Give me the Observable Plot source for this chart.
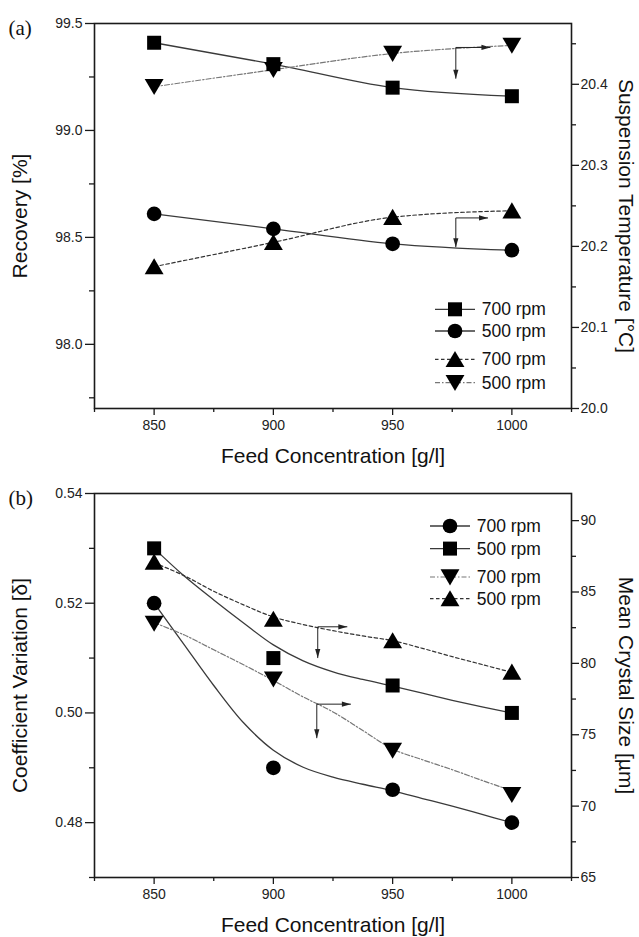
<!DOCTYPE html>
<html>
<head>
<meta charset="utf-8">
<script src="https://cdn.jsdelivr.net/npm/d3@7"></script>
<script src="https://cdn.jsdelivr.net/npm/@observablehq/plot@0.6"></script>
<style>
  html, body { margin: 0; padding: 0; background: #fff; }
  #chart svg { display: block; }
</style>
</head>
<body>
<div id="chart"></div>
<script>
// ---------- data ----------
const conc = [850, 900, 950, 1000];

// panel (a)
const recovery700 = [99.41, 99.31, 99.20, 99.16];   // left axis, squares
const recovery500 = [98.61, 98.54, 98.47, 98.44];   // left axis, circles
const temp700 = [20.175, 20.205, 20.236, 20.244];   // right axis, up triangles
const temp500 = [20.397, 20.418, 20.438, 20.448];   // right axis, down triangles

// panel (b)
const cv700 = [0.520, 0.490, 0.486, 0.480];         // left axis, circles
const cv500 = [0.530, 0.510, 0.505, 0.500];         // left axis, squares
const size700 = [82.8, 78.9, 73.9, 70.8];           // right axis, down triangles
const size500 = [87.1, 83.1, 81.6, 79.4];           // right axis, up triangles

// fitted curves of panel (b)
const fitConc = [850, 862.5, 875, 887.5, 900, 912.5, 925, 937.5, 950, 962.5, 975, 987.5, 1000];
const cvFit700 = [0.5200, 0.5125, 0.5050, 0.4982, 0.4932, 0.4901, 0.4883, 0.4870, 0.4858, 0.4844, 0.4830, 0.4815, 0.4800];
const cvFit500 = [0.5300, 0.5250, 0.5206, 0.5164, 0.5124, 0.5095, 0.5075, 0.5061, 0.5049, 0.5036, 0.5023, 0.5011, 0.5000];
const sizeFit700 = [82.85, 82.0, 80.95, 79.9, 78.8, 77.65, 76.6, 75.3, 74.0, 73.25, 72.55, 71.8, 71.08];
const sizeFit500 = [87.05, 86.15, 85.05, 84.1, 83.25, 82.72, 82.29, 81.92, 81.59, 81.05, 80.47, 79.92, 79.37];

// axes / ticks
const xTicks = [850, 900, 950, 1000];
const xMinor = [825, 875, 925, 975, 1025];
const xDomain = [825, 1025];
const recDomain = [97.7, 99.5];
const recTicks = [98.0, 98.5, 99.0, 99.5];
const recMinor = [97.75, 98.25, 98.75, 99.25];
const tempDomain = [20.0, 20.475];
const tempTicks = [20.0, 20.1, 20.2, 20.3, 20.4];
const tempMinor = [20.05, 20.15, 20.25, 20.35, 20.45];
const cvDomain = [0.47, 0.54];
const cvTicks = [0.48, 0.50, 0.52, 0.54];
const cvMinor = [0.47, 0.49, 0.51, 0.53];
const sizeDomain = [65, 91.9];
const sizeTicks = [65, 70, 75, 80, 85, 90];
const sizeMinor = [67.5, 72.5, 77.5, 82.5, 87.5];

// texts
const xTitle = "Feed Concentration [g/l]";
const titleA = "Recovery [%]";
const titleA2 = "Suspension Temperature [°C]";
const titleB = "Coefficient Variation [δ]";
const titleB2 = "Mean Crystal Size [µm]";
const legendLabelsA = ["700 rpm", "500 rpm", "700 rpm", "500 rpm"];
const legendLabelsB = ["700 rpm", "500 rpm", "700 rpm", "500 rpm"];

// arrow annotations (in left-axis units)
const arrowsA = [
  {x: 976.5, y: 99.388, xEnd: 991, yEnd: 99.242},
  {x: 976.5, y: 98.591, xEnd: 990, yEnd: 98.454}
];
const arrowsB = [
  {x: 918.6, y: 0.5157, xEnd: 931, yEnd: 0.5100},
  {x: 918.2, y: 0.5016, xEnd: 932.5, yEnd: 0.4954}
];

// ---------- helpers ----------
const mapper = (from, to) => {
  const f = d3.scaleLinear().domain(from).range(to);
  return [v => f(v), v => f.invert(v)];
};
const [toA, fromA] = mapper(tempDomain, recDomain);
const [toB, fromB] = mapper(sizeDomain, cvDomain);

const R = s => Math.sqrt(s / Math.PI);
const symSquare = {draw(c, s) { const r = R(s); c.rect(-r, -r, 2 * r, 2 * r); }};
const symCircle = {draw(c, s) { const r = R(s) * 1.05; c.moveTo(r, 0); c.arc(0, 0, r, 0, 2 * Math.PI); }};
const symUp = {draw(c, s) { const r = R(s); c.moveTo(0, -1.2 * r); c.lineTo(1.35 * r, 1.1 * r); c.lineTo(-1.35 * r, 1.1 * r); c.closePath(); }};
const symDown = {draw(c, s) { const r = R(s); c.moveTo(0, 1.2 * r); c.lineTo(1.35 * r, -1.1 * r); c.lineTo(-1.35 * r, -1.1 * r); c.closePath(); }};
const headRight = {draw(c) { c.moveTo(0, 0); c.lineTo(-9, -2.6); c.lineTo(-9, 2.6); c.closePath(); }};
const headDown = {draw(c) { c.moveTo(0, 0); c.lineTo(-2.6, -9); c.lineTo(2.6, -9); c.closePath(); }};

const SOLID = {stroke: "#3a3a3a", strokeWidth: 1.3};
const DASH = {stroke: "#333", strokeWidth: 1.2, strokeDasharray: "3.5,2.5"};
const DASHDOT = {stroke: "#777", strokeWidth: 1.2, strokeDasharray: "5,2,1.5,2"};
const MS = 7;

const font = "'Liberation Sans', Arial, Helvetica, sans-serif";

function legendMark(entries, anchor, offs) {
  return (index, scales, values, dims) => {
    const g = d3.create("svg:g").attr("font-family", font).attr("font-size", 17.5).attr("fill", "#111");
    const xr = dims.width - dims.marginRight;
    entries.forEach(e => {
      const y = anchor === "bottom" ? dims.height - dims.marginBottom + e.dy : dims.marginTop + e.dy;
      g.append("line")
        .attr("x1", xr + offs.l0).attr("x2", xr + offs.l1).attr("y1", y).attr("y2", y)
        .attr("stroke", e.style.stroke).attr("stroke-width", e.style.strokeWidth)
        .attr("stroke-dasharray", e.style.strokeDasharray || null);
      g.append("path").attr("d", d3.symbol(e.symbol, Math.PI * MS * MS)())
        .attr("transform", `translate(${xr + offs.m},${y})`).attr("fill", "#000");
      g.append("text").attr("x", xr + offs.t).attr("y", y).attr("dy", "0.35em")
        .attr("text-anchor", "start").text(e.label);
    });
    return g.node();
  };
}

function axes(leftTicks, leftMinor, leftFmt, rightTicks, rightMinor, toLeft, fromLeft, rightFmt) {
  const tick = {stroke: "#1a1a1a", strokeWidth: 1.3, label: null, fontSize: 14, fill: "#222"};
  return [
    Plot.axisX(xTicks, {...tick, tickSize: 7, tickPadding: 5, tickFormat: d3.format("d")}),
    Plot.axisX(xMinor, {...tick, tickSize: 4, tickFormat: () => ""}),
    Plot.axisY(leftTicks, {...tick, tickSize: 9, tickPadding: 3, tickFormat: leftFmt}),
    Plot.axisY(leftMinor, {...tick, tickSize: 5, tickFormat: () => ""}),
    Plot.axisY(rightTicks.map(toLeft), {...tick, anchor: "right", tickSize: 7, tickPadding: 2,
      tickFormat: d => rightFmt(fromLeft(d))}),
    Plot.axisY(rightMinor.map(toLeft), {...tick, anchor: "right", tickSize: 4, tickFormat: () => ""})
  ];
}

function titles(left, right, panelLabel) {
  return [
    Plot.text([xTitle], {text: d => d, frameAnchor: "bottom", dy: 54, textAnchor: "middle", lineAnchor: "bottom", fontSize: 21, fill: "#111"}),
    Plot.text([left], {text: d => d, frameAnchor: "left", dx: -68, rotate: -90, textAnchor: "middle", lineAnchor: "bottom", fontSize: 21, fill: "#111"}),
    Plot.text([right], {text: d => d, frameAnchor: "right", dx: 47, rotate: 90, textAnchor: "middle", lineAnchor: "bottom", fontSize: 21, fill: "#111"}),
    Plot.text([panelLabel], {text: d => d, frameAnchor: "top-left", dx: -86, dy: 11, textAnchor: "start",
      lineAnchor: "bottom", fontSize: 21, fontFamily: "'Liberation Serif', 'Times New Roman', serif", fill: "#111"})
  ];
}

function arrowMarks(arrows) {
  return [
    Plot.link(arrows, {x1: "x", y1: "y", x2: "xEnd", y2: "y", stroke: "#222", strokeWidth: 1}),
    Plot.link(arrows, {x1: "x", y1: "y", x2: "x", y2: "yEnd", stroke: "#222", strokeWidth: 1}),
    Plot.dot(arrows, {x: "xEnd", y: "y", symbol: headRight, fill: "#222", stroke: "none", r: 3}),
    Plot.dot(arrows, {x: "x", y: "yEnd", symbol: headDown, fill: "#222", stroke: "none", r: 3})
  ];
}

const series = (xs, ys, map = v => v) => xs.map((x, i) => ({x, y: map(ys[i])}));
const dots = (data, symbol) => Plot.dot(data, {x: "x", y: "y", symbol, r: MS, fill: "#000", stroke: "none"});
const curve = (data, style, c = "monotone-x") => Plot.line(data, {x: "x", y: "y", curve: c, ...style});

// ---------- panel (a) ----------
const aRec700 = series(conc, recovery700);
const aRec500 = series(conc, recovery500);
const aT700 = series(conc, temp700, toA);
const aT500 = series(conc, temp500, toA);

const plotA = Plot.plot({
  width: 639, height: 468,
  marginLeft: 94, marginRight: 68, marginTop: 23, marginBottom: 60,
  style: {fontFamily: font, fontSize: "14px", color: "#222", background: "#fff", overflow: "visible"},
  x: {domain: xDomain, axis: null},
  y: {domain: recDomain, axis: null},
  marks: [
    ...axes(recTicks, recMinor, d3.format(".1f"), tempTicks, tempMinor, toA, fromA, d3.format(".1f")),
    Plot.frame({stroke: "#1a1a1a", strokeWidth: 1.6}),
    curve(aRec700, SOLID), curve(aRec500, SOLID),
    curve(aT700, DASH), curve(aT500, DASHDOT),
    ...arrowMarks(arrowsA),
    dots(aRec700, symSquare), dots(aRec500, symCircle),
    dots(aT700, symUp), dots(aT500, symDown),
    ...titles(titleA, titleA2, "(a)"),
    legendMark([
      {label: legendLabelsA[0], symbol: symSquare, style: SOLID, dy: -98.7},
      {label: legendLabelsA[1], symbol: symCircle, style: SOLID, dy: -77},
      {label: legendLabelsA[2], symbol: symUp, style: DASH, dy: -48.7},
      {label: legendLabelsA[3], symbol: symDown, style: DASHDOT, dy: -25.3}
    ], "bottom", {l0: -136, l1: -96, m: -116, t: -89.3})
  ]
});

// ---------- panel (b) ----------
const bCv700 = series(conc, cv700);
const bCv500 = series(conc, cv500);
const bS700 = series(conc, size700, toB);
const bS500 = series(conc, size500, toB);
const fCv700 = series(fitConc, cvFit700);
const fCv500 = series(fitConc, cvFit500);
const fS700 = series(fitConc, sizeFit700, toB);
const fS500 = series(fitConc, sizeFit500, toB);

const plotB = Plot.plot({
  width: 639, height: 469,
  marginLeft: 94, marginRight: 68, marginTop: 25, marginBottom: 60,
  style: {fontFamily: font, fontSize: "14px", color: "#222", background: "#fff", overflow: "visible"},
  x: {domain: xDomain, axis: null},
  y: {domain: cvDomain, axis: null},
  marks: [
    ...axes(cvTicks, cvMinor, d3.format(".2f"), sizeTicks, sizeMinor, toB, fromB, d3.format("d")),
    Plot.frame({stroke: "#1a1a1a", strokeWidth: 1.6}),
    curve(fCv700, SOLID, "catmull-rom"), curve(fCv500, SOLID, "catmull-rom"),
    curve(fS700, DASHDOT, "catmull-rom"), curve(fS500, DASH, "catmull-rom"),
    ...arrowMarks(arrowsB),
    dots(bCv700, symCircle), dots(bCv500, symSquare),
    dots(bS700, symDown), dots(bS500, symUp),
    ...titles(titleB, titleB2, "(b)"),
    legendMark([
      {label: legendLabelsB[0], symbol: symCircle, style: SOLID, dy: 33},
      {label: legendLabelsB[1], symbol: symSquare, style: SOLID, dy: 55.6},
      {label: legendLabelsB[2], symbol: symDown, style: DASHDOT, dy: 84},
      {label: legendLabelsB[3], symbol: symUp, style: DASH, dy: 105.6}
    ], "top", {l0: -141, l1: -101, m: -121, t: -94.3})
  ]
});

const root = document.getElementById("chart");
root.append(plotA, plotB);
</script>
</body>
</html>
